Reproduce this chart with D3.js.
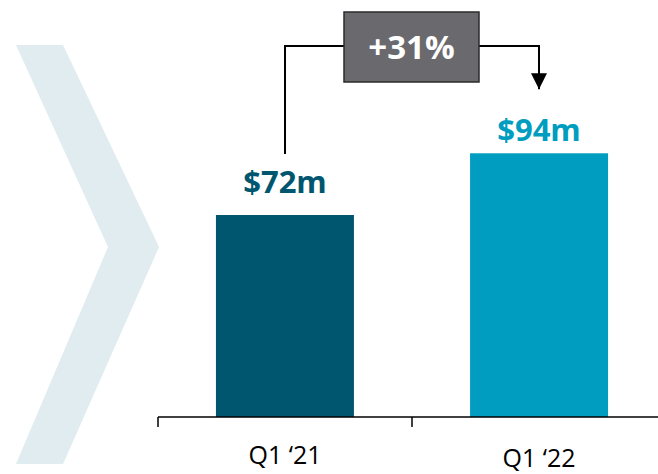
<!DOCTYPE html>
<html>
<head>
<meta charset="utf-8">
<script src="https://cdn.jsdelivr.net/npm/d3@7"></script>
<style>
  html, body { margin: 0; padding: 0; background: #fff; }
  svg { display: block; }
</style>
</head>
<body>
<div id="chartContainer"></div>
<script>
// chart data
const categories = ["Q1 \u201821", "Q1 \u201822"];
const revenue = [72, 94];
const valueLabels = ["$72m", "$94m"];
const growthLabel = "+31%";
const barColors = ["#00566e", "#009dc0"];

function pageLoaded() {
  const w = 658;
  const h = 474;
  const axisY = 417;

  const svg = d3
    .select("#chartContainer")
    .append("svg")
    .attr("width", w)
    .attr("height", h);

  // background chevron
  svg
    .append("polygon")
    .attr("points", "16,45 63,45 159,247 63,464 16,464 108,247")
    .attr("fill", "#e0ecef");

  // scales
  const xCat = d3.scaleBand().domain(categories).range([158, 666]);

  const xBar = d3
    .scaleBand()
    .domain(categories)
    .range([158, 666])
    .paddingInner(0.457)
    .paddingOuter(0.228);

  const yScale = d3
    .scaleLinear()
    .domain([0, 72])
    .range([axisY, 215]);

  const data = categories.map((c, i) => ({
    cat: c,
    value: revenue[i],
    label: valueLabels[i],
    color: barColors[i],
  }));

  // bars
  svg
    .selectAll("rect.bars")
    .data(data)
    .enter()
    .append("rect")
    .attr("class", "bars")
    .attr("x", (d) => xBar(d.cat))
    .attr("y", (d) => yScale(d.value))
    .attr("width", xBar.bandwidth())
    .attr("height", (d) => axisY - yScale(d.value))
    .attr("fill", (d) => d.color);

  // value labels (second one sits closer to its bar in the original)
  svg
    .selectAll("text.val")
    .data(data)
    .enter()
    .append("text")
    .attr("class", "val")
    .attr("x", (d) => xCat(d.cat) + xCat.bandwidth() / 2)
    .attr("y", (d, i) => yScale(d.value) - (i === 0 ? 22 : 12))
    .attr("text-anchor", "middle")
    .attr("font-family", "Open Sans, sans-serif")
    .attr("font-weight", "bold")
    .attr("font-size", "31px")
    .attr("fill", (d) => d.color)
    .text((d) => d.label);

  // axis line + ticks
  svg
    .append("line")
    .attr("x1", 158)
    .attr("x2", w)
    .attr("y1", axisY)
    .attr("y2", axisY)
    .attr("stroke", "#000")
    .attr("stroke-width", 1.5);

  svg
    .selectAll("line.tick")
    .data(categories)
    .enter()
    .append("line")
    .attr("class", "tick")
    .attr("x1", (d) => xCat(d))
    .attr("x2", (d) => xCat(d))
    .attr("y1", axisY)
    .attr("y2", axisY + 10)
    .attr("stroke", "#000")
    .attr("stroke-width", 1.5);

  svg
    .selectAll("text.cat")
    .data(categories)
    .enter()
    .append("text")
    .attr("class", "cat")
    .attr("x", (d) => xCat(d) + xCat.bandwidth() / 2)
    .attr("y", (d, i) => (i === 0 ? 464 : 467))
    .attr("text-anchor", "middle")
    .attr("font-family", "Open Sans, sans-serif")
    .attr("font-size", "25px")
    .attr("fill", "#000")
    .text((d) => d);

  // growth connector
  const x0 = xCat(categories[0]) + xCat.bandwidth() / 2;
  const x1 = xCat(categories[1]) + xCat.bandwidth() / 2;
  const lineY = 46;

  svg
    .append("defs")
    .append("marker")
    .attr("id", "arrow")
    .attr("viewBox", "0 0 10 10")
    .attr("refX", 10)
    .attr("refY", 5)
    .attr("markerWidth", 16)
    .attr("markerHeight", 16)
    .attr("markerUnits", "userSpaceOnUse")
    .attr("orient", "auto")
    .append("path")
    .attr("d", "M0,0 L10,5 L0,10 Z")
    .attr("fill", "#000");

  svg
    .append("path")
    .attr("d", `M${x0},${yScale(72) - 61} V${lineY} H${x1} V${yScale(94) - 64}`)
    .attr("fill", "none")
    .attr("stroke", "#000")
    .attr("stroke-width", 2)
    .attr("marker-end", "url(#arrow)");

  svg
    .append("rect")
    .attr("x", 344)
    .attr("y", 12)
    .attr("width", 135)
    .attr("height", 70)
    .attr("fill", "#6a696e")
    .attr("stroke", "#2b2b2b")
    .attr("stroke-width", 1.5);

  svg
    .append("text")
    .attr("x", 411.5)
    .attr("y", 59)
    .attr("text-anchor", "middle")
    .attr("font-family", "Open Sans, sans-serif")
    .attr("font-weight", "bold")
    .attr("font-size", "33px")
    .attr("fill", "#fff")
    .text(growthLabel);
}

window.addEventListener("load", pageLoaded);
</script>
</body>
</html>
